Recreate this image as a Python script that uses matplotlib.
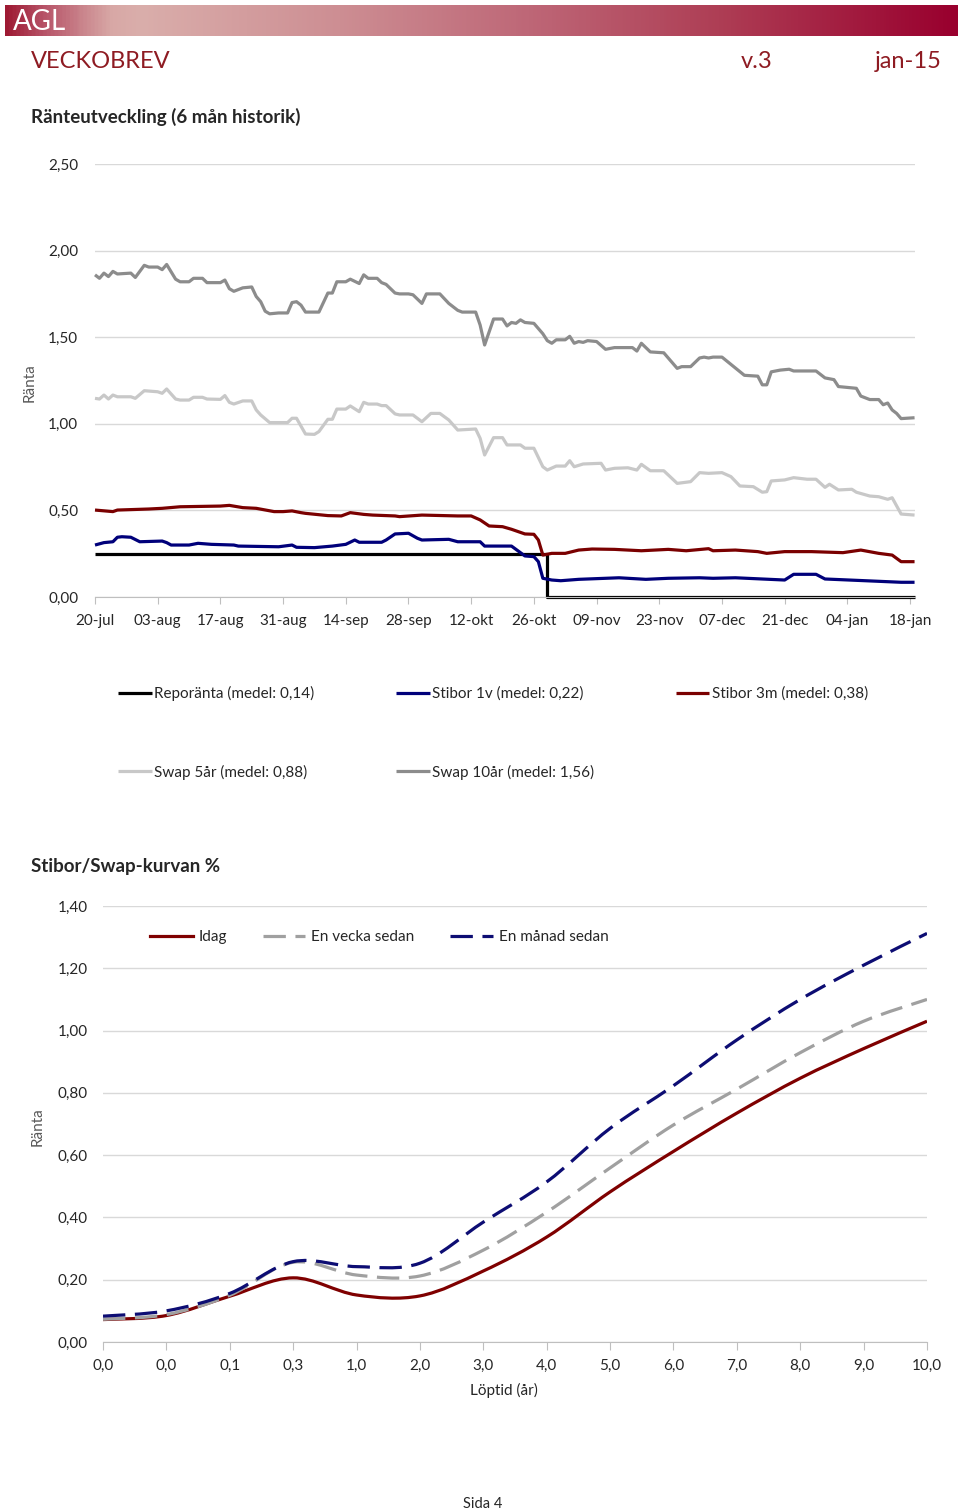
import numpy as np
import pandas as pd
import matplotlib
matplotlib.use("Agg")
import matplotlib.pyplot as plt
from matplotlib.path import Path
from matplotlib.patches import PathPatch
from matplotlib.lines import Line2D
from matplotlib.colors import LinearSegmentedColormap
from matplotlib.ticker import FuncFormatter

plt.rcParams['font.family'] = ['Lato', 'DejaVu Sans']

# ---- Räntor, 6 mån historik (dagar räknade från 20-jul-2014) ----
start = pd.Timestamp('2014-07-20')
tick_step_days = 14
n_ticks = 14
sv_months = {7: 'jul', 8: 'aug', 9: 'sep', 10: 'okt', 11: 'nov', 12: 'dec', 1: 'jan'}

repo_days = [0, 101, 183]
repo_vals = [0.25, 0.00, 0.00]

stibor1v_days = [0, 2, 4, 5, 6, 8, 10, 15, 16, 17, 21, 23, 26, 31, 32, 41, 44, 45, 49, 53,
                 56, 58, 59, 64, 65, 67, 70, 72, 73, 79, 81, 86, 87, 93, 96, 98, 99, 100, 102, 104,
                 108, 117, 123, 128, 135, 138, 143, 154, 156, 161, 163, 172, 180, 183]
stibor1v_vals = [0.300, 0.314, 0.319, 0.345, 0.348, 0.345, 0.319, 0.323, 0.314, 0.300, 0.300, 0.310,
                 0.304, 0.300, 0.294, 0.290, 0.300, 0.287, 0.285, 0.294, 0.304, 0.329, 0.316, 0.316,
                 0.329, 0.364, 0.368, 0.339, 0.329, 0.333, 0.319, 0.319, 0.294, 0.294, 0.237, 0.233,
                 0.204, 0.108, 0.098, 0.094, 0.102, 0.111, 0.102, 0.108, 0.111, 0.108, 0.111, 0.098,
                 0.131, 0.131, 0.104, 0.094, 0.085, 0.085]

stibor3m_days = [0, 4, 5, 12, 15, 19, 28, 30, 33, 36, 40, 42, 44, 46, 47, 52, 55, 57, 60, 62,
                 67, 68, 73, 81, 84, 86, 88, 91, 93, 96, 98, 99, 100, 102, 105, 108, 111, 116, 122, 128,
                 132, 137, 138, 143, 148, 150, 154, 160, 167, 171, 175, 178, 180, 183]
stibor3m_vals = [0.502, 0.493, 0.502, 0.508, 0.512, 0.521, 0.525, 0.529, 0.516, 0.512, 0.493, 0.493,
                 0.497, 0.487, 0.483, 0.470, 0.468, 0.487, 0.477, 0.473, 0.468, 0.464, 0.473, 0.468,
                 0.468, 0.445, 0.410, 0.406, 0.391, 0.364, 0.362, 0.329, 0.242, 0.252, 0.252, 0.271,
                 0.277, 0.275, 0.267, 0.275, 0.267, 0.279, 0.267, 0.271, 0.262, 0.252, 0.262, 0.262,
                 0.256, 0.271, 0.252, 0.242, 0.204, 0.204]

swap5_days = [0, 1, 2, 3, 4, 5, 8, 9, 11, 14, 15, 16, 18, 19, 21, 22, 24, 25, 28, 29,
              30, 31, 33, 35, 36, 37, 39, 41, 43, 44, 45, 47, 49, 50, 52, 53, 54, 56, 57, 59,
              60, 61, 63, 64, 65, 67, 68, 71, 73, 75, 77, 79, 81, 85, 86, 87, 89, 91, 92, 95,
              96, 98, 100, 101, 103, 105, 106, 107, 109, 113, 114, 116, 119, 121, 122, 124, 127, 130, 133, 135,
              137, 140, 142, 144, 147, 149, 150, 151, 154, 156, 159, 161, 163, 164, 166, 169, 170, 173, 175, 177,
              178, 180, 183]
swap5_vals = [1.147, 1.143, 1.166, 1.143, 1.166, 1.156, 1.156, 1.147, 1.191, 1.185,
              1.176, 1.201, 1.143, 1.137, 1.137, 1.153, 1.153, 1.143, 1.141, 1.163,
              1.124, 1.114, 1.132, 1.132, 1.080, 1.051, 1.007, 1.007, 1.007, 1.032,
              1.032, 0.941, 0.939, 0.955, 1.026, 1.026, 1.085, 1.085, 1.103, 1.070,
              1.124, 1.114, 1.114, 1.105, 1.105, 1.057, 1.051, 1.051, 1.012, 1.060,
              1.060, 1.022, 0.964, 0.970, 0.916, 0.820, 0.920, 0.920, 0.878, 0.878,
              0.859, 0.859, 0.752, 0.733, 0.756, 0.756, 0.787, 0.752, 0.768, 0.772,
              0.733, 0.743, 0.746, 0.733, 0.766, 0.729, 0.729, 0.656, 0.666, 0.718,
              0.714, 0.718, 0.695, 0.641, 0.637, 0.605, 0.608, 0.670, 0.676, 0.689,
              0.680, 0.680, 0.633, 0.651, 0.618, 0.622, 0.605, 0.583, 0.579, 0.564,
              0.573, 0.479, 0.473]

swap10_days = [0, 1, 2, 3, 4, 5, 8, 9, 11, 12, 14, 15, 16, 18, 19, 21, 22, 24, 25, 28,
               29, 30, 31, 33, 35, 36, 37, 38, 39, 41, 43, 44, 45, 46, 47, 50, 52, 53, 54, 56,
               57, 59, 60, 61, 63, 64, 65, 67, 68, 70, 71, 73, 74, 77, 79, 81, 82, 85, 86, 87,
               89, 91, 92, 93, 94, 95, 96, 98, 100, 101, 102, 103, 105, 106, 107, 108, 109, 110, 112, 114,
               116, 120, 121, 122, 124, 127, 130, 131, 133, 135, 136, 137, 138, 140, 145, 148, 149, 150, 151, 153,
               155, 156, 161, 163, 165, 166, 168, 170, 171, 173, 175, 176, 177, 178, 179, 180, 183]
swap10_vals = [1.860, 1.840, 1.870, 1.850, 1.880, 1.865, 1.870, 1.845, 1.915, 1.905,
               1.905, 1.890, 1.920, 1.835, 1.820, 1.820, 1.840, 1.840, 1.815, 1.815,
               1.830, 1.780, 1.765, 1.785, 1.790, 1.735, 1.705, 1.650, 1.635, 1.640,
               1.640, 1.700, 1.705, 1.685, 1.645, 1.645, 1.755, 1.755, 1.820, 1.820,
               1.835, 1.810, 1.860, 1.840, 1.840, 1.815, 1.805, 1.755, 1.750, 1.750,
               1.745, 1.695, 1.750, 1.750, 1.695, 1.655, 1.645, 1.645, 1.570, 1.455,
               1.605, 1.605, 1.565, 1.585, 1.580, 1.600, 1.585, 1.580, 1.520, 1.480,
               1.465, 1.485, 1.485, 1.505, 1.465, 1.475, 1.470, 1.480, 1.475, 1.430,
               1.440, 1.440, 1.420, 1.465, 1.415, 1.410, 1.320, 1.330, 1.330, 1.380,
               1.385, 1.380, 1.385, 1.385, 1.280, 1.275, 1.225, 1.225, 1.300, 1.310,
               1.315, 1.305, 1.305, 1.265, 1.255, 1.215, 1.210, 1.205, 1.160, 1.140,
               1.140, 1.110, 1.120, 1.080, 1.060, 1.030, 1.035]

series_top = [
    ('Reporänta (medel: 0,14)', repo_days, repo_vals, '#000000'),
    ('Stibor 1v (medel: 0,22)', stibor1v_days, stibor1v_vals, '#00007A'),
    ('Stibor 3m (medel: 0,38)', stibor3m_days, stibor3m_vals, '#7A0000'),
    ('Swap 5år (medel: 0,88)', swap5_days, swap5_vals, '#C8C8C8'),
    ('Swap 10år (medel: 1,56)', swap10_days, swap10_vals, '#8C8C8C'),
]

# ---- Stibor/Swap-kurvan ----
tenor_labels = ['0,0', '0,0', '0,1', '0,3', '1,0', '2,0', '3,0', '4,0', '5,0',
                '6,0', '7,0', '8,0', '9,0', '10,0']
idag = [0.072, 0.085, 0.147, 0.206, 0.151, 0.148, 0.228, 0.337, 0.482, 0.612, 0.735, 0.847, 0.942, 1.030]
en_vecka = [0.073, 0.088, 0.150, 0.256, 0.215, 0.212, 0.295, 0.417, 0.559, 0.697, 0.812, 0.929, 1.030, 1.100]
en_manad = [0.083, 0.100, 0.156, 0.258, 0.242, 0.253, 0.385, 0.514, 0.686, 0.823, 0.970, 1.100, 1.210, 1.312]

TXT = '#262626'
GRID = '#D9D9D9'
HEAD = '#8E1B22'


def comma(v, pos):
    return f'{v:.2f}'.replace('.', ',')


def smooth_path(xs, ys):
    # Excel-liknande utjämnad linje (Bezier genom punkterna)
    pts = np.column_stack([xs, ys]).astype(float)
    n = len(pts)
    verts = [tuple(pts[0])]
    codes = [Path.MOVETO]
    for i in range(n - 1):
        p0 = pts[max(i - 1, 0)]
        p1 = pts[i]
        p2 = pts[i + 1]
        p3 = pts[min(i + 2, n - 1)]
        verts += [tuple(p1 + (p2 - p0) / 6), tuple(p2 - (p3 - p1) / 6), tuple(p2)]
        codes += [Path.CURVE4] * 3
    return Path(verts, codes)


fig = plt.figure(figsize=(9.6, 15.12), dpi=100)
W, H = 960, 1512


def fx(px):
    return px / W


def fy(py):
    return 1 - py / H


# Sidhuvud
hax = fig.add_axes([fx(5), fy(36), fx(953), 31 / H])
cmap = LinearSegmentedColormap.from_list('agl', [
    (0.0, '#9E1A33'), (0.04, '#B8566A'), (0.11, '#D8A8A6'), (0.14, '#DAAEAB'),
    (0.35, '#CD8E93'), (0.55, '#BE6777'), (0.75, '#AE3E55'), (1.0, '#99002E')])
hax.imshow(np.linspace(0, 1, 500)[None, :], aspect='auto', cmap=cmap, extent=[0, 1, 0, 1])
hax.set_axis_off()
fig.text(fx(13), fy(22), 'AGL', color='white', fontsize=20, va='center', ha='left')
fig.text(fx(31), fy(62), 'VECKOBREV', color=HEAD, fontsize=17, va='center', ha='left')
fig.text(fx(772), fy(62), 'v.3', color=HEAD, fontsize=17, va='center', ha='right')
fig.text(fx(942), fy(62), 'jan-15', color=HEAD, fontsize=17, va='center', ha='right')

# ---- Diagram 1 ----
fig.text(fx(31), fy(117), 'Ränteutveckling (6 mån historik)', fontsize=13.5, fontweight='bold',
         color=TXT, va='center', ha='left')
ax1 = fig.add_axes([fx(95), fy(597), fx(820), 433 / H])
handles = []
for label, days, vals, col in series_top:
    dates = start + pd.to_timedelta(days, unit='D')
    ds = 'steps-post' if days is repo_days else 'default'
    ln, = ax1.plot(dates, vals, color=col, lw=2.3, label=label, drawstyle=ds,
                   clip_on=False, solid_joinstyle='round', solid_capstyle='butt')
    handles.append(ln)

ticks = [start + pd.Timedelta(days=tick_step_days * i) for i in range(n_ticks)]
ax1.set_xticks(ticks)
ax1.set_xticklabels([f'{t.day:02d}-{sv_months[t.month]}' for t in ticks])
ax1.set_xlim(start, start + pd.Timedelta(days=183.1))
ax1.set_ylim(0, 2.5)
ax1.set_yticks(np.arange(0, 2.51, 0.5))
ax1.yaxis.set_major_formatter(FuncFormatter(comma))
ax1.grid(axis='y', color=GRID, lw=1)
ax1.set_axisbelow(True)
for s in ['top', 'right', 'left']:
    ax1.spines[s].set_visible(False)
ax1.spines['bottom'].set_color('#BFBFBF')
ax1.tick_params(axis='y', length=0, pad=12, labelsize=11, labelcolor=TXT)
ax1.tick_params(axis='x', length=5, color='#BFBFBF', pad=7.5, labelsize=11, labelcolor=TXT)
fig.text(fx(30), fy(383), 'Ränta', rotation=90, fontsize=11, color='#595959', va='center', ha='center')

order = [0, 3, 1, 4, 2]
ax1.legend([handles[i] for i in order], [handles[i].get_label() for i in order],
           ncol=3, loc='upper left', bbox_to_anchor=(fx(118), fy(686)), bbox_transform=fig.transFigure,
           frameon=False, fontsize=11, handlelength=2.2, handletextpad=0.15, columnspacing=5.35,
           labelspacing=4.15, borderpad=0, borderaxespad=0, labelcolor=TXT)

# ---- Diagram 2 ----
fig.text(fx(31), fy(867), 'Stibor/Swap-kurvan %', fontsize=13.5, fontweight='bold',
         color=TXT, va='center', ha='left')
ax2 = fig.add_axes([fx(103), fy(1342), fx(824), 436 / H])
xpos = np.arange(len(tenor_labels))
curves = [
    ('Idag', idag, '#7F0000', '-'),
    ('En vecka sedan', en_vecka, '#A0A0A0', (0, (7, 3))),
    ('En månad sedan', en_manad, '#0D0D73', (0, (7, 3))),
]
leg_h = []
for label, vals, col, ls in curves:
    ax2.add_patch(PathPatch(smooth_path(xpos, vals), fill=False, edgecolor=col, lw=2.3,
                            linestyle=ls, capstyle='butt'))
    leg_h.append(Line2D([], [], color=col, lw=2.3, linestyle=ls, label=label))
ax2.set_xlim(0, len(tenor_labels) - 1)
ax2.set_ylim(0, 1.4)
ax2.set_xticks(xpos)
ax2.set_xticklabels(tenor_labels)
ax2.set_yticks(np.arange(0, 1.41, 0.2))
ax2.yaxis.set_major_formatter(FuncFormatter(comma))
ax2.grid(axis='y', color=GRID, lw=1)
ax2.set_axisbelow(True)
for s in ['top', 'right', 'left']:
    ax2.spines[s].set_visible(False)
ax2.spines['bottom'].set_color('#BFBFBF')
ax2.tick_params(axis='y', length=0, pad=11, labelsize=11, labelcolor=TXT)
ax2.tick_params(axis='x', length=6, color='#BFBFBF', pad=6, labelsize=11, labelcolor=TXT)
ax2.set_xlabel('Löptid (år)', fontsize=11, color=TXT)
ax2.xaxis.set_label_coords((504 - 103) / 824, -(1390 - 1342) / 436)
ax2.xaxis.label.set_va('center')
fig.text(fx(38), fy(1127), 'Ränta', rotation=90, fontsize=11, color='#595959', va='center', ha='center')
ax2.legend(handles=leg_h, ncol=3, loc='center left', bbox_to_anchor=(fx(150), fy(937)),
           bbox_transform=fig.transFigure, frameon=False, fontsize=11, handlelength=2.8,
           handletextpad=0.4, columnspacing=2.3, borderpad=0, borderaxespad=0, labelcolor=TXT)

fig.text(fx(483), fy(1504), 'Sida 4', fontsize=10.5, color=TXT, va='center', ha='center')

fig.savefig('out.png', dpi=100)
